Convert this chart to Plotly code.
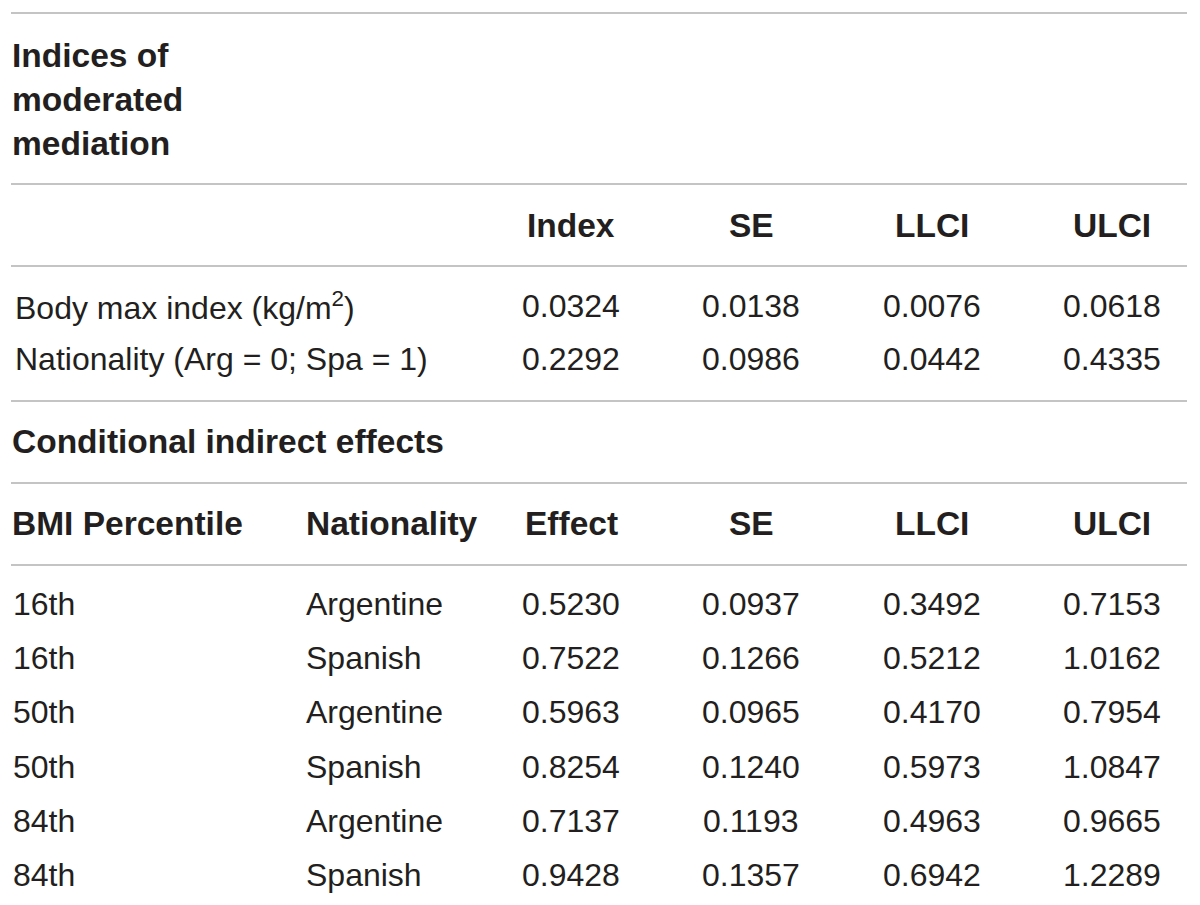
import plotly.graph_objects as go

# Table content
title_lines = ["Indices of", "moderated", "mediation"]
stat_headers = ["Index", "SE", "LLCI", "ULCI"]
mm_labels = ["Body max index (kg/m<sup>2</sup>)", "Nationality (Arg = 0; Spa = 1)"]
mm_index = [0.0324, 0.2292]
mm_se = [0.0138, 0.0986]
mm_llci = [0.0076, 0.0442]
mm_ulci = [0.0618, 0.4335]

cond_title = "Conditional indirect effects"
cond_headers = ["BMI Percentile", "Nationality", "Effect", "SE", "LLCI", "ULCI"]
percentiles = ["16th", "16th", "50th", "50th", "84th", "84th"]
nationality = ["Argentine", "Spanish", "Argentine", "Spanish", "Argentine", "Spanish"]
effect = [0.5230, 0.7522, 0.5963, 0.8254, 0.7137, 0.9428]
cond_se = [0.0937, 0.1266, 0.0965, 0.1240, 0.1193, 0.1357]
cond_llci = [0.3492, 0.5212, 0.4170, 0.5973, 0.4963, 0.6942]
cond_ulci = [0.7153, 1.0162, 0.7954, 1.0847, 0.9665, 1.2289]

# layout helpers (pixel coordinates of the picture)
W, H = 1200, 905
OFF = 8  # page body margin, so axis values match screen pixels
FONT = "Liberation Sans, Arial, sans-serif"
TXT = "#231f20"
LINE = "#c4c4c4"
FS = 32
FS_BOLD = 33.5
col_left = [10, 304]
col_center = [571, 751, 932, 1112]
rule_y = [13, 184, 266, 401, 483, 565]

fig = go.Figure()
annotations = []


def add_text(x, y, text, bold=False, anchor="left"):
    size = FS
    if bold:
        text = "<b>" + text + "</b>"
        size = FS_BOLD
    annotations.append(dict(
        x=x, y=y, xref="x", yref="y", text=text, showarrow=False,
        xanchor=anchor, yanchor="middle",
        font=dict(family=FONT, size=size, color=TXT),
    ))


def fmt(v):
    return f"{v:.4f}"


# section 1 title
for i, line in enumerate(title_lines):
    add_text(col_left[0], 55 + i * 44, line, bold=True)

# section 1 header
for j, h in enumerate(stat_headers):
    add_text(col_center[j], 225, h, bold=True, anchor="center")

# section 1 rows
for i, lab in enumerate(mm_labels):
    y = 306 + i * 53
    add_text(col_left[0] + 3, y, lab)
    for j, v in enumerate([mm_index[i], mm_se[i], mm_llci[i], mm_ulci[i]]):
        add_text(col_center[j], y, fmt(v), anchor="center")

# section 2 title
add_text(col_left[0], 441, cond_title, bold=True)

# section 2 header
add_text(col_left[0], 523, cond_headers[0], bold=True)
add_text(col_left[1], 523, cond_headers[1], bold=True)
for j, h in enumerate(cond_headers[2:]):
    add_text(col_center[j], 523, h, bold=True, anchor="center")

# section 2 rows
for i in range(len(percentiles)):
    y = 604 + i * 54.2
    add_text(col_left[0] + 1, y, percentiles[i])
    add_text(col_left[1], y, nationality[i])
    vals = [effect[i], cond_se[i], cond_llci[i], cond_ulci[i]]
    for j, v in enumerate(vals):
        add_text(col_center[j], y, fmt(v), anchor="center")

shapes = [
    dict(type="line", xref="x", yref="y", x0=11, x1=1187, y0=y, y1=y,
         line=dict(color=LINE, width=2))
    for y in rule_y
]

fig.update_layout(
    width=W, height=H,
    margin=dict(l=0, r=0, t=0, b=0),
    paper_bgcolor="white", plot_bgcolor="white",
    xaxis=dict(range=[OFF, W + OFF], visible=False, fixedrange=True),
    yaxis=dict(range=[H + OFF, OFF], visible=False, fixedrange=True),
    annotations=annotations,
    shapes=shapes,
    showlegend=False,
)

fig.write_html("out.html")
